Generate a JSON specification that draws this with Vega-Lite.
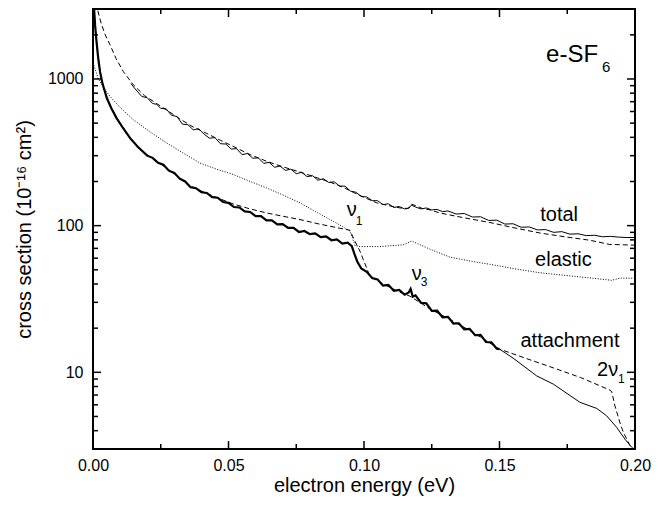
{
  "$schema": "https://vega.github.io/schema/vega-lite/v6.json",
  "width": 542,
  "height": 440,
  "autosize": "none",
  "padding": {"left": 93, "top": 9, "right": 31, "bottom": 57},
  "background": "white",
  "config": {
    "view": {"stroke": "black", "strokeWidth": 2},
    "font": "Liberation Sans",
    "axis": {
      "domain": false, "ticks": false,
      "labelColor": "black", "labelFont": "Liberation Sans", "labelFontSize": 16,
      "titleFont": "Liberation Sans", "titleFontSize": 20, "titleFontWeight": "normal", "titleColor": "black",
      "grid": false, "labelOverlap": false, "labelFlush": false
    }
  },
  "datasets": {
    "curves": [
      {"s":"tot","x":0.0140,"y":930},{"s":"tot","x":0.0150,"y":880},{"s":"tot","x":0.018,"y":760},{"s":"tot","x":0.020,"y":745},{"s":"tot","x":0.022,"y":680},{"s":"tot","x":0.0235,"y":672},{"s":"tot","x":0.025,"y":630},{"s":"tot","x":0.027,"y":625},{"s":"tot","x":0.029,"y":565},{"s":"tot","x":0.031,"y":555},{"s":"tot","x":0.033,"y":492},{"s":"tot","x":0.035,"y":488},{"s":"tot","x":0.037,"y":450},{"s":"tot","x":0.039,"y":458},{"s":"tot","x":0.041,"y":420},{"s":"tot","x":0.043,"y":395},{"s":"tot","x":0.045,"y":398},{"s":"tot","x":0.047,"y":362},{"s":"tot","x":0.049,"y":360},{"s":"tot","x":0.051,"y":333},{"s":"tot","x":0.053,"y":335},{"s":"tot","x":0.055,"y":305},{"s":"tot","x":0.057,"y":310},{"s":"tot","x":0.059,"y":288},{"s":"tot","x":0.061,"y":290},{"s":"tot","x":0.063,"y":266},{"s":"tot","x":0.065,"y":270},{"s":"tot","x":0.067,"y":250},{"s":"tot","x":0.069,"y":255},{"s":"tot","x":0.071,"y":238},{"s":"tot","x":0.073,"y":243},{"s":"tot","x":0.075,"y":226},{"s":"tot","x":0.077,"y":231},{"s":"tot","x":0.079,"y":216},{"s":"tot","x":0.081,"y":219},{"s":"tot","x":0.083,"y":204},{"s":"tot","x":0.085,"y":209},{"s":"tot","x":0.087,"y":197},{"s":"tot","x":0.089,"y":199},{"s":"tot","x":0.091,"y":186},{"s":"tot","x":0.093,"y":186},{"s":"tot","x":0.095,"y":172},{"s":"tot","x":0.097,"y":169},{"s":"tot","x":0.099,"y":158},{"s":"tot","x":0.101,"y":157},{"s":"tot","x":0.103,"y":148},{"s":"tot","x":0.105,"y":148},{"s":"tot","x":0.107,"y":139},{"s":"tot","x":0.109,"y":141},{"s":"tot","x":0.111,"y":133},{"s":"tot","x":0.113,"y":135},{"s":"tot","x":0.115,"y":130},{"s":"tot","x":0.1165,"y":131},{"s":"tot","x":0.1175,"y":138},{"s":"tot","x":0.119,"y":134},{"s":"tot","x":0.121,"y":130},{"s":"tot","x":0.123,"y":132},{"s":"tot","x":0.125,"y":128},{"s":"tot","x":0.127,"y":129},{"s":"tot","x":0.129,"y":124.5},{"s":"tot","x":0.131,"y":126},{"s":"tot","x":0.134,"y":120},{"s":"tot","x":0.137,"y":121},{"s":"tot","x":0.140,"y":114.5},{"s":"tot","x":0.143,"y":115},{"s":"tot","x":0.146,"y":108.5},{"s":"tot","x":0.149,"y":109},{"s":"tot","x":0.152,"y":102.5},{"s":"tot","x":0.155,"y":103},{"s":"tot","x":0.158,"y":97.5},{"s":"tot","x":0.161,"y":98},{"s":"tot","x":0.164,"y":93.5},{"s":"tot","x":0.167,"y":94},{"s":"tot","x":0.170,"y":90},{"s":"tot","x":0.173,"y":91},{"s":"tot","x":0.176,"y":87.5},{"s":"tot","x":0.179,"y":88},{"s":"tot","x":0.182,"y":85.5},{"s":"tot","x":0.185,"y":86},{"s":"tot","x":0.188,"y":84},{"s":"tot","x":0.191,"y":84.5},{"s":"tot","x":0.194,"y":83.5},{"s":"tot","x":0.197,"y":83},{"s":"tot","x":0.200,"y":83},

      {"s":"totm","x":0.0012,"y":3300},{"s":"totm","x":0.0016,"y":3000},{"s":"totm","x":0.003,"y":2400},{"s":"totm","x":0.0045,"y":2000},{"s":"totm","x":0.0063,"y":1706},{"s":"totm","x":0.0085,"y":1380},{"s":"totm","x":0.0112,"y":1122},{"s":"totm","x":0.0149,"y":912},{"s":"totm","x":0.019,"y":770},{"s":"totm","x":0.0235,"y":680},{"s":"totm","x":0.028,"y":600},{"s":"totm","x":0.032,"y":535},{"s":"totm","x":0.037,"y":470},{"s":"totm","x":0.042,"y":425},{"s":"totm","x":0.047,"y":382},{"s":"totm","x":0.052,"y":345},{"s":"totm","x":0.058,"y":305},{"s":"totm","x":0.064,"y":275},{"s":"totm","x":0.070,"y":252},{"s":"totm","x":0.0764,"y":232},{"s":"totm","x":0.082,"y":214},{"s":"totm","x":0.0875,"y":198},{"s":"totm","x":0.093,"y":180},{"s":"totm","x":0.0962,"y":168},{"s":"totm","x":0.100,"y":156},{"s":"totm","x":0.1047,"y":143},{"s":"totm","x":0.109,"y":137},{"s":"totm","x":0.1133,"y":132},{"s":"totm","x":0.116,"y":131},{"s":"totm","x":0.1175,"y":140},{"s":"totm","x":0.119,"y":137},{"s":"totm","x":0.1215,"y":131},{"s":"totm","x":0.1244,"y":128},{"s":"totm","x":0.128,"y":122},{"s":"totm","x":0.137,"y":113},{"s":"totm","x":0.1465,"y":105},{"s":"totm","x":0.155,"y":97},{"s":"totm","x":0.165,"y":89},{"s":"totm","x":0.175,"y":83.5},{"s":"totm","x":0.1834,"y":79.5},{"s":"totm","x":0.1905,"y":74.5},{"s":"totm","x":0.200,"y":73.6},

      {"s":"el","x":0.0,"y":1290},{"s":"el","x":0.002,"y":1000},{"s":"el","x":0.004,"y":870},{"s":"el","x":0.0063,"y":759},{"s":"el","x":0.010,"y":640},{"s":"el","x":0.0149,"y":527},{"s":"el","x":0.020,"y":450},{"s":"el","x":0.0272,"y":366},{"s":"el","x":0.033,"y":315},{"s":"el","x":0.0395,"y":267},{"s":"el","x":0.0455,"y":243},{"s":"el","x":0.0518,"y":223},{"s":"el","x":0.058,"y":200},{"s":"el","x":0.064,"y":181},{"s":"el","x":0.070,"y":162},{"s":"el","x":0.0764,"y":143},{"s":"el","x":0.082,"y":125},{"s":"el","x":0.0875,"y":110},{"s":"el","x":0.0915,"y":100},{"s":"el","x":0.0948,"y":92},{"s":"el","x":0.0958,"y":82},{"s":"el","x":0.0967,"y":73},{"s":"el","x":0.098,"y":72},{"s":"el","x":0.1059,"y":72},{"s":"el","x":0.1145,"y":74},{"s":"el","x":0.1176,"y":78.5},{"s":"el","x":0.1244,"y":69},{"s":"el","x":0.1317,"y":61},{"s":"el","x":0.140,"y":57},{"s":"el","x":0.1465,"y":54.5},{"s":"el","x":0.155,"y":51},{"s":"el","x":0.165,"y":47.7},{"s":"el","x":0.1834,"y":44},{"s":"el","x":0.1914,"y":42.4},{"s":"el","x":0.1945,"y":43.9},{"s":"el","x":0.200,"y":43.8},

      {"s":"att","x":0.0004,"y":3000},{"s":"att","x":0.0008,"y":2300},{"s":"att","x":0.0013,"y":1800},{"s":"att","x":0.0019,"y":1400},{"s":"att","x":0.0026,"y":1122},{"s":"att","x":0.0035,"y":930},{"s":"att","x":0.0051,"y":741},{"s":"att","x":0.0068,"y":630},{"s":"att","x":0.0087,"y":541},{"s":"att","x":0.011,"y":465},{"s":"att","x":0.0137,"y":395},{"s":"att","x":0.0165,"y":345},{"s":"att","x":0.020,"y":300},{"s":"att","x":0.022,"y":290},{"s":"att","x":0.024,"y":268},{"s":"att","x":0.026,"y":260},{"s":"att","x":0.028,"y":237},{"s":"att","x":0.030,"y":229},{"s":"att","x":0.032,"y":209},{"s":"att","x":0.034,"y":200},{"s":"att","x":0.036,"y":183},{"s":"att","x":0.038,"y":180},{"s":"att","x":0.040,"y":169},{"s":"att","x":0.042,"y":167},{"s":"att","x":0.044,"y":156.5},{"s":"att","x":0.046,"y":155},{"s":"att","x":0.048,"y":145},{"s":"att","x":0.050,"y":143},{"s":"att","x":0.052,"y":134},{"s":"att","x":0.054,"y":133},{"s":"att","x":0.056,"y":125},{"s":"att","x":0.058,"y":124},{"s":"att","x":0.060,"y":116},{"s":"att","x":0.062,"y":116},{"s":"att","x":0.064,"y":108.5},{"s":"att","x":0.066,"y":108.5},{"s":"att","x":0.068,"y":102},{"s":"att","x":0.070,"y":102.5},{"s":"att","x":0.072,"y":96.5},{"s":"att","x":0.074,"y":96.5},{"s":"att","x":0.076,"y":90.5},{"s":"att","x":0.078,"y":92},{"s":"att","x":0.080,"y":87.5},{"s":"att","x":0.082,"y":88.5},{"s":"att","x":0.084,"y":83.5},{"s":"att","x":0.086,"y":84.5},{"s":"att","x":0.088,"y":79.5},{"s":"att","x":0.090,"y":80.5},{"s":"att","x":0.092,"y":75.5},{"s":"att","x":0.094,"y":76.5},{"s":"att","x":0.0955,"y":72.5},{"s":"att","x":0.0965,"y":64},{"s":"att","x":0.0975,"y":57},{"s":"att","x":0.099,"y":51},{"s":"att","x":0.101,"y":48.5},{"s":"att","x":0.103,"y":44},{"s":"att","x":0.105,"y":43},{"s":"att","x":0.107,"y":39},{"s":"att","x":0.109,"y":39.5},{"s":"att","x":0.111,"y":36},{"s":"att","x":0.113,"y":36.5},{"s":"att","x":0.115,"y":33.8},{"s":"att","x":0.1165,"y":35},{"s":"att","x":0.1172,"y":37},{"s":"att","x":0.118,"y":32.8},{"s":"att","x":0.119,"y":33.5},{"s":"att","x":0.121,"y":29.8},{"s":"att","x":0.123,"y":29.5},{"s":"att","x":0.125,"y":26.2},{"s":"att","x":0.127,"y":26.3},{"s":"att","x":0.129,"y":23.7},{"s":"att","x":0.131,"y":23.9},{"s":"att","x":0.133,"y":21.5},{"s":"att","x":0.135,"y":21.6},{"s":"att","x":0.137,"y":19.6},{"s":"att","x":0.139,"y":19.8},{"s":"att","x":0.141,"y":17.9},{"s":"att","x":0.143,"y":18.0},{"s":"att","x":0.145,"y":16.1},{"s":"att","x":0.147,"y":16.0},{"s":"att","x":0.149,"y":14.5},{"s":"att","x":0.150,"y":14.4},

      {"s":"tail","x":0.150,"y":14.4},{"s":"tail","x":0.155,"y":12.5},{"s":"tail","x":0.1637,"y":9.46},{"s":"tail","x":0.1699,"y":8.3},{"s":"tail","x":0.1797,"y":6.24},{"s":"tail","x":0.1859,"y":5.67},{"s":"tail","x":0.1895,"y":5.06},{"s":"tail","x":0.1932,"y":4.22},{"s":"tail","x":0.1963,"y":3.5},{"s":"tail","x":0.1988,"y":3.08},{"s":"tail","x":0.200,"y":2.95},

      {"s":"attm","x":0.0004,"y":3000},{"s":"attm","x":0.0008,"y":2300},{"s":"attm","x":0.0013,"y":1800},{"s":"attm","x":0.0019,"y":1400},{"s":"attm","x":0.0026,"y":1122},{"s":"attm","x":0.0035,"y":930},{"s":"attm","x":0.0051,"y":741},{"s":"attm","x":0.0068,"y":630},{"s":"attm","x":0.0087,"y":541},{"s":"attm","x":0.011,"y":465},{"s":"attm","x":0.0137,"y":395},{"s":"attm","x":0.0165,"y":345},{"s":"attm","x":0.0198,"y":305},{"s":"attm","x":0.024,"y":271},{"s":"attm","x":0.028,"y":240},{"s":"attm","x":0.032,"y":212},{"s":"attm","x":0.036,"y":186},{"s":"attm","x":0.040,"y":172},{"s":"attm","x":0.045,"y":157},{"s":"attm","x":0.052,"y":140},{"s":"attm","x":0.058,"y":130},{"s":"attm","x":0.0641,"y":122},{"s":"attm","x":0.070,"y":116},{"s":"attm","x":0.0764,"y":110},{"s":"attm","x":0.083,"y":103},{"s":"attm","x":0.0899,"y":97},{"s":"attm","x":0.0948,"y":93},{"s":"attm","x":0.0967,"y":78},{"s":"attm","x":0.0985,"y":67},{"s":"attm","x":0.0997,"y":59},{"s":"attm","x":0.1022,"y":45},{"s":"attm","x":0.106,"y":41},{"s":"attm","x":0.112,"y":36},{"s":"attm","x":0.117,"y":33},{"s":"attm","x":0.1244,"y":27},{"s":"attm","x":0.1305,"y":23.6},{"s":"attm","x":0.1403,"y":18.7},{"s":"attm","x":0.150,"y":14.4},{"s":"attm","x":0.160,"y":12.4},{"s":"attm","x":0.170,"y":10.7},{"s":"attm","x":0.180,"y":9.2},{"s":"attm","x":0.1905,"y":7.6},{"s":"attm","x":0.1914,"y":7.4},{"s":"attm","x":0.1926,"y":5.9},{"s":"attm","x":0.1945,"y":4.5},{"s":"attm","x":0.1957,"y":3.9},{"s":"attm","x":0.1982,"y":3.15},{"s":"attm","x":0.200,"y":2.9}
    ],
    "labels": [
      {"k":"name","t":"total","x":0.172,"y":108.4},
      {"k":"name","t":"elastic","x":0.1736,"y":52.7},
      {"k":"name","t":"attachment","x":0.176,"y":14.8},
      {"k":"main","t":"2ν","x":0.186,"y":9.42},
      {"k":"sub","t":"1","x":0.1937,"y":8.43},
      {"k":"main","t":"ν","x":0.0936,"y":115.8},
      {"k":"sub","t":"1","x":0.0970,"y":101.8},
      {"k":"main","t":"ν","x":0.1176,"y":42.9},
      {"k":"sub","t":"3","x":0.1209,"y":38.7},
      {"k":"big","t":"e-SF","x":0.1672,"y":1306},
      {"k":"bigsub","t":"6","x":0.1878,"y":1117}
    ],
    "xt": [
      {"v":0.0,"a":3,"b":3.40},{"v":0.025,"a":3,"b":3.245},{"v":0.05,"a":3,"b":3.40},{"v":0.075,"a":3,"b":3.245},{"v":0.1,"a":3,"b":3.40},{"v":0.125,"a":3,"b":3.245},{"v":0.15,"a":3,"b":3.40},{"v":0.175,"a":3,"b":3.245},{"v":0.2,"a":3,"b":3.40},
      {"v":0.0,"a":3000,"b":2645},{"v":0.025,"a":3000,"b":2774},{"v":0.05,"a":3000,"b":2645},{"v":0.075,"a":3000,"b":2774},{"v":0.1,"a":3000,"b":2645},{"v":0.125,"a":3000,"b":2774},{"v":0.15,"a":3000,"b":2645},{"v":0.175,"a":3000,"b":2774},{"v":0.2,"a":3000,"b":2645}
    ],
    "yt": [
      {"v":3,"a":0,"b":0.00185},{"v":4,"a":0,"b":0.00185},{"v":5,"a":0,"b":0.00185},{"v":6,"a":0,"b":0.00185},{"v":7,"a":0,"b":0.00185},{"v":8,"a":0,"b":0.00185},{"v":9,"a":0,"b":0.00185},{"v":10,"a":0,"b":0.00295},
      {"v":20,"a":0,"b":0.00185},{"v":30,"a":0,"b":0.00185},{"v":40,"a":0,"b":0.00185},{"v":50,"a":0,"b":0.00185},{"v":60,"a":0,"b":0.00185},{"v":70,"a":0,"b":0.00185},{"v":80,"a":0,"b":0.00185},{"v":90,"a":0,"b":0.00185},{"v":100,"a":0,"b":0.00295},
      {"v":200,"a":0,"b":0.00185},{"v":300,"a":0,"b":0.00185},{"v":400,"a":0,"b":0.00185},{"v":500,"a":0,"b":0.00185},{"v":600,"a":0,"b":0.00185},{"v":700,"a":0,"b":0.00185},{"v":800,"a":0,"b":0.00185},{"v":900,"a":0,"b":0.00185},{"v":1000,"a":0,"b":0.00295},
      {"v":2000,"a":0,"b":0.00185},{"v":3000,"a":0,"b":0.00185},
      {"v":3,"a":0.2,"b":0.19815},{"v":4,"a":0.2,"b":0.19815},{"v":5,"a":0.2,"b":0.19815},{"v":6,"a":0.2,"b":0.19815},{"v":7,"a":0.2,"b":0.19815},{"v":8,"a":0.2,"b":0.19815},{"v":9,"a":0.2,"b":0.19815},{"v":10,"a":0.2,"b":0.19705},
      {"v":20,"a":0.2,"b":0.19815},{"v":30,"a":0.2,"b":0.19815},{"v":40,"a":0.2,"b":0.19815},{"v":50,"a":0.2,"b":0.19815},{"v":60,"a":0.2,"b":0.19815},{"v":70,"a":0.2,"b":0.19815},{"v":80,"a":0.2,"b":0.19815},{"v":90,"a":0.2,"b":0.19815},{"v":100,"a":0.2,"b":0.19705},
      {"v":200,"a":0.2,"b":0.19815},{"v":300,"a":0.2,"b":0.19815},{"v":400,"a":0.2,"b":0.19815},{"v":500,"a":0.2,"b":0.19815},{"v":600,"a":0.2,"b":0.19815},{"v":700,"a":0.2,"b":0.19815},{"v":800,"a":0.2,"b":0.19815},{"v":900,"a":0.2,"b":0.19815},{"v":1000,"a":0.2,"b":0.19705},
      {"v":2000,"a":0.2,"b":0.19815},{"v":3000,"a":0.2,"b":0.19815}
    ]
  },
  "layer": [
    {"data": {"name": "curves"}, "transform": [{"filter": "datum.s == 'el'"}],
     "mark": {"type": "line", "clip": true, "color": "black", "strokeWidth": 1, "strokeDash": [1, 1.6]},
     "encoding": {
       "x": {"field": "x", "type": "quantitative", "scale": {"domain": [0, 0.2], "nice": false, "zero": false},
         "axis": {"orient": "bottom", "title": "electron energy (eV)", "values": [0, 0.05, 0.1, 0.15, 0.2], "format": ".2f",
           "labelPadding": 8, "titlePadding": 2}},
       "y": {"field": "y", "type": "quantitative", "scale": {"type": "log", "domain": [3, 3000], "nice": false},
         "axis": {"orient": "left", "title": "cross section (10⁻¹⁶ cm²)", "values": [10, 100, 1000], "format": "d",
           "labelPadding": 10, "titlePadding": 13}}
     }},
    {"data": {"name": "curves"}, "transform": [{"filter": "datum.s == 'totm'"}],
     "mark": {"type": "line", "clip": true, "color": "black", "strokeWidth": 1, "strokeDash": [5, 3]},
     "encoding": {"x": {"field": "x", "type": "quantitative", "axis": null}, "y": {"field": "y", "type": "quantitative", "axis": null}}},
    {"data": {"name": "curves"}, "transform": [{"filter": "datum.s == 'attm'"}],
     "mark": {"type": "line", "clip": true, "color": "black", "strokeWidth": 1, "strokeDash": [5, 3]},
     "encoding": {"x": {"field": "x", "type": "quantitative", "axis": null}, "y": {"field": "y", "type": "quantitative", "axis": null}}},
    {"data": {"name": "curves"}, "transform": [{"filter": "datum.s == 'tot'"}],
     "mark": {"type": "line", "clip": true, "color": "black", "strokeWidth": 1},
     "encoding": {"x": {"field": "x", "type": "quantitative", "axis": null}, "y": {"field": "y", "type": "quantitative", "axis": null}}},
    {"data": {"name": "curves"}, "transform": [{"filter": "datum.s == 'tail'"}],
     "mark": {"type": "line", "clip": true, "color": "black", "strokeWidth": 1},
     "encoding": {"x": {"field": "x", "type": "quantitative", "axis": null}, "y": {"field": "y", "type": "quantitative", "axis": null}}},
    {"data": {"name": "curves"}, "transform": [{"filter": "datum.s == 'att'"}],
     "mark": {"type": "line", "clip": true, "color": "black", "strokeWidth": 2.2},
     "encoding": {"x": {"field": "x", "type": "quantitative", "axis": null}, "y": {"field": "y", "type": "quantitative", "axis": null}}},
    {"data": {"name": "xt"},
     "mark": {"type": "rule", "color": "black", "strokeWidth": 1.5},
     "encoding": {"x": {"field": "v", "type": "quantitative", "axis": null}, "y": {"field": "a", "type": "quantitative", "axis": null}, "y2": {"field": "b"}}},
    {"data": {"name": "yt"},
     "mark": {"type": "rule", "color": "black", "strokeWidth": 1.5},
     "encoding": {"y": {"field": "v", "type": "quantitative", "axis": null}, "x": {"field": "a", "type": "quantitative", "axis": null}, "x2": {"field": "b"}}},
    {"data": {"name": "labels"}, "transform": [{"filter": "datum.k == 'name'"}],
     "mark": {"type": "text", "font": "Liberation Sans", "fontSize": 20, "align": "center", "baseline": "alphabetic", "color": "black"},
     "encoding": {"x": {"field": "x", "type": "quantitative", "axis": null}, "y": {"field": "y", "type": "quantitative", "axis": null}, "text": {"field": "t"}}},
    {"data": {"name": "labels"}, "transform": [{"filter": "datum.k == 'main'"}],
     "mark": {"type": "text", "font": "Liberation Sans", "fontSize": 20, "align": "left", "baseline": "alphabetic", "color": "black"},
     "encoding": {"x": {"field": "x", "type": "quantitative", "axis": null}, "y": {"field": "y", "type": "quantitative", "axis": null}, "text": {"field": "t"}}},
    {"data": {"name": "labels"}, "transform": [{"filter": "datum.k == 'sub'"}],
     "mark": {"type": "text", "font": "Liberation Sans", "fontSize": 12, "align": "left", "baseline": "alphabetic", "color": "black"},
     "encoding": {"x": {"field": "x", "type": "quantitative", "axis": null}, "y": {"field": "y", "type": "quantitative", "axis": null}, "text": {"field": "t"}}},
    {"data": {"name": "labels"}, "transform": [{"filter": "datum.k == 'big'"}],
     "mark": {"type": "text", "font": "Liberation Sans", "fontSize": 24, "align": "left", "baseline": "alphabetic", "color": "black"},
     "encoding": {"x": {"field": "x", "type": "quantitative", "axis": null}, "y": {"field": "y", "type": "quantitative", "axis": null}, "text": {"field": "t"}}},
    {"data": {"name": "labels"}, "transform": [{"filter": "datum.k == 'bigsub'"}],
     "mark": {"type": "text", "font": "Liberation Sans", "fontSize": 15, "align": "left", "baseline": "alphabetic", "color": "black"},
     "encoding": {"x": {"field": "x", "type": "quantitative", "axis": null}, "y": {"field": "y", "type": "quantitative", "axis": null}, "text": {"field": "t"}}}
  ],
  "resolve": {"axis": {"x": "independent", "y": "independent"}}
}
